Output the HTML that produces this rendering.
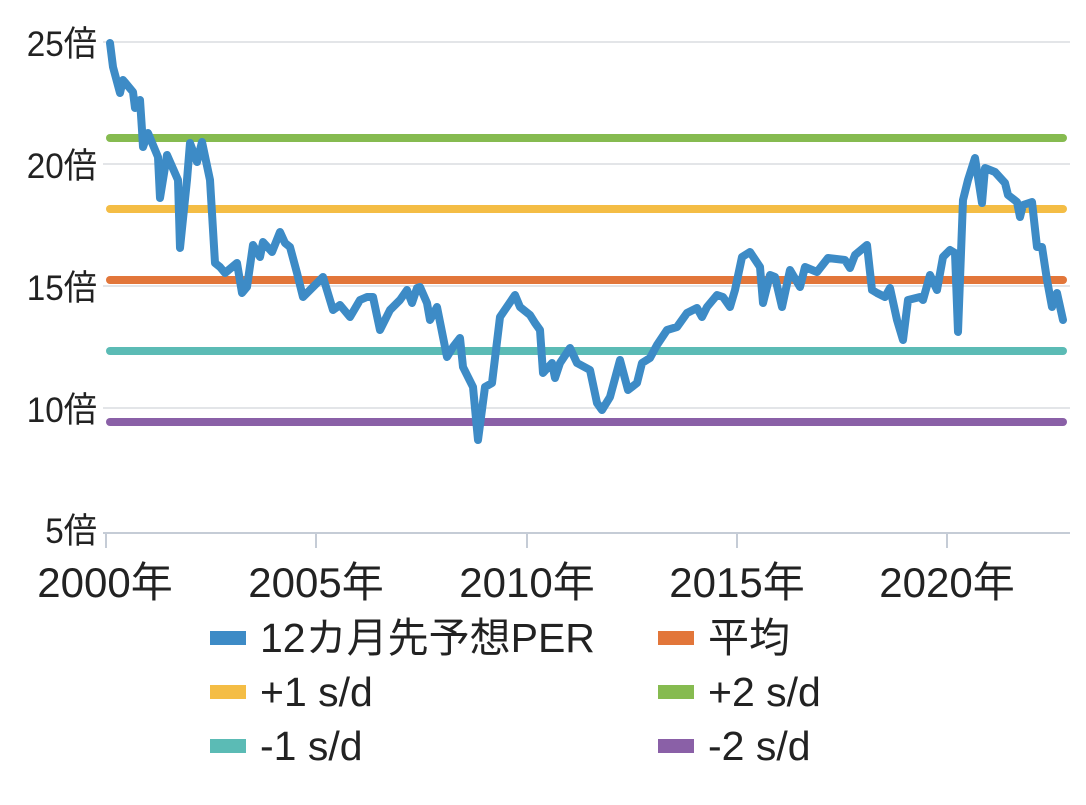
<!DOCTYPE html>
<html><head><meta charset="utf-8"><style>
html,body{margin:0;padding:0;background:#fff;}
svg text{font-family:"Liberation Sans","Noto Sans CJK JP",sans-serif;fill:#222;}
</style></head><body>
<svg width="1086" height="800" viewBox="0 0 1086 800" xmlns="http://www.w3.org/2000/svg">
<g stroke="#e3e5e8" stroke-width="2">
<line x1="103" y1="42" x2="1070" y2="42"/>
<line x1="103" y1="164" x2="1070" y2="164"/>
<line x1="103" y1="286" x2="1070" y2="286"/>
<line x1="103" y1="408" x2="1070" y2="408"/>
</g>
<line x1="103" y1="533" x2="1070" y2="533" stroke="#c5ccd6" stroke-width="2"/>
<g stroke="#c5ccd6" stroke-width="2">
<line x1="106" y1="533" x2="106" y2="548"/><line x1="316" y1="533" x2="316" y2="548"/>
<line x1="527" y1="533" x2="527" y2="548"/><line x1="737" y1="533" x2="737" y2="548"/>
<line x1="947" y1="533" x2="947" y2="548"/>
</g>
<g font-size="35" text-anchor="end">
<text x="97" y="56" transform="translate(97 0) scale(0.95 1) translate(-97 0)">25倍</text>
<text x="97" y="178" transform="translate(97 0) scale(0.95 1) translate(-97 0)">20倍</text>
<text x="97" y="300" transform="translate(97 0) scale(0.95 1) translate(-97 0)">15倍</text>
<text x="97" y="422" transform="translate(97 0) scale(0.95 1) translate(-97 0)">10倍</text>
<text x="97" y="543" transform="translate(97 0) scale(0.95 1) translate(-97 0)">5倍</text>
</g>
<g font-size="42" text-anchor="middle">
<text x="105" y="597">2000年</text><text x="316" y="597">2005年</text>
<text x="527" y="597">2010年</text><text x="737" y="597">2015年</text>
<text x="947" y="597">2020年</text>
</g>
<g stroke-width="8" stroke-linecap="round">
<line x1="110" y1="138" x2="1063" y2="138" stroke="#86bb50"/>
<line x1="110" y1="209" x2="1063" y2="209" stroke="#f4bd45"/>
<line x1="110" y1="280" x2="1063" y2="280" stroke="#e2763a"/>
<line x1="110" y1="351" x2="1063" y2="351" stroke="#5bbbb5"/>
<line x1="110" y1="422" x2="1063" y2="422" stroke="#8a60a7"/>
</g>
<polyline fill="none" stroke="#3d8bc6" stroke-width="8" stroke-linejoin="round" stroke-linecap="round" points="110,43 113,67 120,93 123,80 133,92 135,108 140,100 142,130 143,147 148,133 158,157 160,198 167,155 178,180 180,248 187,180 190,143 197,162 202,142 210,180 215,263 220,267 225,273 237,263 242,293 247,287 253,245 260,257 263,242 272,252 280,232 285,243 290,247 297,273 303,297 313,287 323,277 333,310 340,305 350,317 360,300 367,297 373,297 380,330 390,310 400,300 407,290 412,303 417,288 420,287 427,303 430,320 437,307 447,357 453,347 460,338 463,367 473,387 478,440 485,387 492,383 500,317 515,295 520,307 530,315 535,323 540,330 543,373 552,363 555,378 560,363 570,348 577,363 590,370 597,403 602,410 610,397 620,360 628,390 637,383 642,363 650,358 657,345 667,330 677,327 687,313 697,308 702,317 707,307 717,295 723,297 730,307 735,290 742,257 750,252 760,267 763,303 770,275 775,277 782,307 790,270 800,287 805,267 817,272 828,258 845,260 850,268 855,255 867,245 872,290 877,293 885,297 890,288 897,320 903,340 908,300 920,297 923,300 930,275 937,290 943,257 950,250 955,253 958,332 963,200 968,180 975,158 982,203 985,168 995,172 1005,183 1008,195 1017,202 1020,217 1023,205 1032,202 1037,247 1042,247 1047,280 1052,307 1057,293 1063,320"/>
<g font-size="41">
<rect x="210" y="631" width="36" height="14" fill="#3d8bc6"/><text x="260" y="652">12カ月先予想PER</text>
<rect x="658" y="631" width="36" height="14" fill="#e2763a"/><text x="708" y="652">平均</text>
<rect x="210" y="685" width="36" height="14" fill="#f4bd45"/><text x="260" y="706">+1 s/d</text>
<rect x="658" y="685" width="36" height="14" fill="#86bb50"/><text x="708" y="706">+2 s/d</text>
<rect x="210" y="739" width="36" height="14" fill="#5bbbb5"/><text x="260" y="760">-1 s/d</text>
<rect x="658" y="739" width="36" height="14" fill="#8a60a7"/><text x="708" y="760">-2 s/d</text>
</g>
</svg>
</body></html>
